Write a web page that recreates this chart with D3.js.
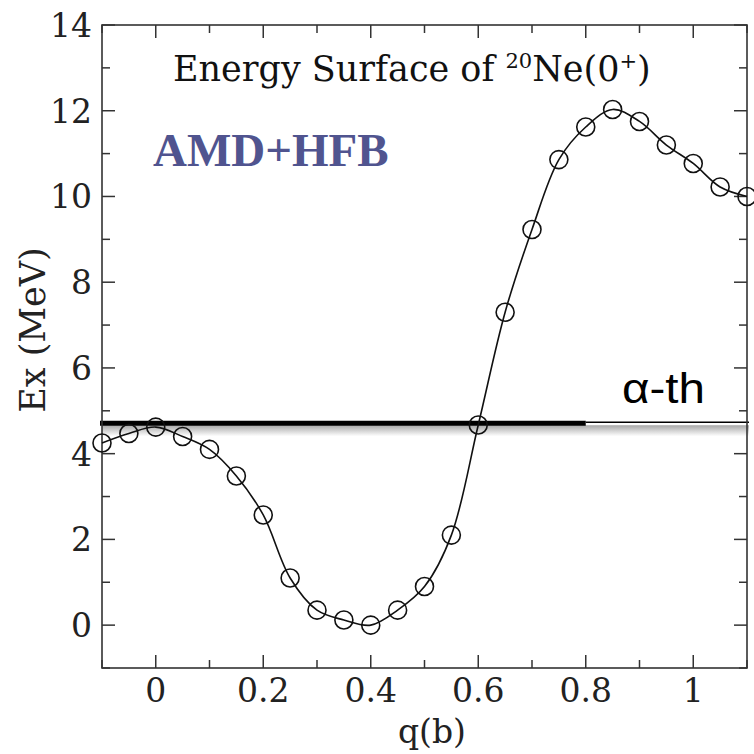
<!DOCTYPE html>
<html>
<head>
<meta charset="utf-8">
<script src="https://cdn.jsdelivr.net/npm/d3@7"></script>
<style>
  body { margin: 0; background: #fff; }
  svg { display: block; }
</style>
</head>
<body>
<div id="chart-Div"></div>
<script>

// q (b) of each computed point and its excitation energy (MeV)
let qValues = [-0.1, -0.05, 0, 0.05, 0.1, 0.15, 0.2, 0.25, 0.3, 0.35, 0.4, 0.45, 0.5,
    0.55, 0.6, 0.65, 0.7, 0.75, 0.8, 0.85, 0.9, 0.95, 1.0, 1.05, 1.1];
let exValues = [4.25, 4.47, 4.62, 4.4, 4.1, 3.48, 2.57, 1.1, 0.35, 0.12, 0.0, 0.35, 0.9,
    2.1, 4.67, 7.3, 9.23, 10.86, 11.62, 12.03, 11.75, 11.2, 10.77, 10.22, 10.0];

let alphaThreshold = 4.71;
let xTicks = [0, 0.2, 0.4, 0.6, 0.8, 1];
let yTicks = [0, 2, 4, 6, 8, 10, 12, 14];

let width = 754, height = 754;
let plotLeft = 102, plotRight = 747, plotTop = 25, plotBottom = 668;
let serif = '"DejaVu Serif", serif';

let svg = d3.select('#chart-Div')
    .append('svg')
    .attr('width', width)
    .attr('height', height);

let xScale = d3.scaleLinear().domain([-0.1, 1.1]).range([plotLeft, plotRight]);
let yScale = d3.scaleLinear().domain([-1, 14]).range([plotBottom, plotTop]);

let data = qValues.map((q, i) => ({ q: q, ex: exValues[i] }));

// alpha threshold line with its grey shadow
let grad = svg.append('defs').append('linearGradient')
    .attr('id', 'shade').attr('x1', 0).attr('y1', 0).attr('x2', 0).attr('y2', 1);
grad.append('stop').attr('offset', '0%').attr('stop-color', '#a8a8a8');
grad.append('stop').attr('offset', '100%').attr('stop-color', '#ffffff');

let yTh = yScale(alphaThreshold);
svg.append('rect')
    .attr('x', xScale(-0.1))
    .attr('y', yTh + 2)
    .attr('width', xScale(1.1) - xScale(-0.1) + 2)
    .attr('height', 11)
    .attr('fill', 'url(#shade)');

svg.append('line')
    .attr('x1', xScale(-0.1) - 2).attr('x2', xScale(0.8))
    .attr('y1', yTh).attr('y2', yTh)
    .attr('stroke', 'black').attr('stroke-width', 5);
svg.append('line')
    .attr('x1', xScale(0.8)).attr('x2', xScale(1.1) + 2)
    .attr('y1', yTh - 1).attr('y2', yTh - 1)
    .attr('stroke', 'black').attr('stroke-width', 1.6);

svg.append('text')
    .attr('x', 622).attr('y', 403)
    .attr('font-family', '"Liberation Sans", Arial, sans-serif')
    .attr('font-size', 42)
    .attr('textLength', 83)
    .attr('lengthAdjust', 'spacingAndGlyphs')
    .text('\u03b1-th');

// frame
svg.append('rect')
    .attr('x', plotLeft).attr('y', plotTop)
    .attr('width', plotRight - plotLeft).attr('height', plotBottom - plotTop)
    .attr('fill', 'none').attr('stroke', '#333').attr('stroke-width', 1.6);

// inward ticks on all four sides
let xMinor = d3.range(-0.1, 1.101, 0.1).map(d => +d.toFixed(2));
let yMinor = d3.range(-1, 14.01, 1);
let tickG = svg.append('g').attr('stroke', '#333').attr('stroke-width', 1.5);
xMinor.forEach(q => {
    let len = xTicks.includes(q) ? 13 : 8;
    let x = xScale(q);
    tickG.append('line').attr('x1', x).attr('x2', x).attr('y1', plotBottom).attr('y2', plotBottom - len);
    tickG.append('line').attr('x1', x).attr('x2', x).attr('y1', plotTop).attr('y2', plotTop + len);
});
yMinor.forEach(v => {
    let len = yTicks.includes(v) ? 13 : 8;
    let y = yScale(v);
    tickG.append('line').attr('x1', plotLeft).attr('x2', plotLeft + len).attr('y1', y).attr('y2', y);
    tickG.append('line').attr('x1', plotRight).attr('x2', plotRight - len).attr('y1', y).attr('y2', y);
});

// tick labels
svg.append('g').selectAll('text')
    .data(xTicks).join('text')
    .attr('x', d => xScale(d)).attr('y', 702)
    .attr('text-anchor', 'middle')
    .attr('font-family', serif).attr('font-size', 33)
    .attr('fill', '#222')
    .text(d => d3.format('~g')(d));

svg.append('g').selectAll('text')
    .data(yTicks).join('text')
    .attr('x', 92).attr('y', d => yScale(d))
    .attr('dy', '0.36em')
    .attr('text-anchor', 'end')
    .attr('font-family', serif).attr('font-size', 33)
    .attr('fill', '#222')
    .text(d => d);

// axis titles
svg.append('text')
    .attr('x', 432).attr('y', 743)
    .attr('text-anchor', 'middle')
    .attr('font-family', serif).attr('font-size', 33)
    .attr('fill', '#222')
    .text('q(b)');

svg.append('text')
    .attr('transform', 'translate(45,330) rotate(-90)')
    .attr('text-anchor', 'middle')
    .attr('font-family', serif).attr('font-size', 35)
    .attr('fill', '#222')
    .text('Ex (MeV)');

// curve and points
let curveGen = d3.line()
    .x(d => xScale(d.q))
    .y(d => yScale(d.ex))
    .curve(d3.curveCatmullRom.alpha(0.5));

svg.append('path')
    .attr('d', curveGen(data))
    .attr('fill', 'none')
    .attr('stroke', '#111')
    .attr('stroke-width', 1.6);

svg.append('g').selectAll('circle')
    .data(data).join('circle')
    .attr('cx', d => xScale(d.q))
    .attr('cy', d => yScale(d.ex))
    .attr('r', 9)
    .attr('fill', 'none')
    .attr('stroke', '#111')
    .attr('stroke-width', 1.6);

// title
let title = svg.append('text')
    .attr('x', 173).attr('y', 81)
    .attr('font-family', serif).attr('font-size', 35)
    .attr('fill', '#111');
title.append('tspan').text('Energy Surface of ');
title.append('tspan').attr('font-size', 21).attr('dy', -13).text('20');
title.append('tspan').attr('dy', 13).text('Ne(0');
title.append('tspan').attr('font-size', 21).attr('dy', -13).text('+');
title.append('tspan').attr('dy', 13).text(')');
let tLen = title.node().getComputedTextLength();
if (tLen > 485) {
    title.attr('textLength', 485).attr('lengthAdjust', 'spacingAndGlyphs');
}

svg.append('text')
    .attr('x', 153).attr('y', 166)
    .attr('font-family', '"Liberation Serif", "Times New Roman", serif')
    .attr('font-weight', 'bold')
    .attr('font-size', 47)
    .attr('fill', '#50548f')
    .text('AMD+HFB');

</script>
</body>
</html>
